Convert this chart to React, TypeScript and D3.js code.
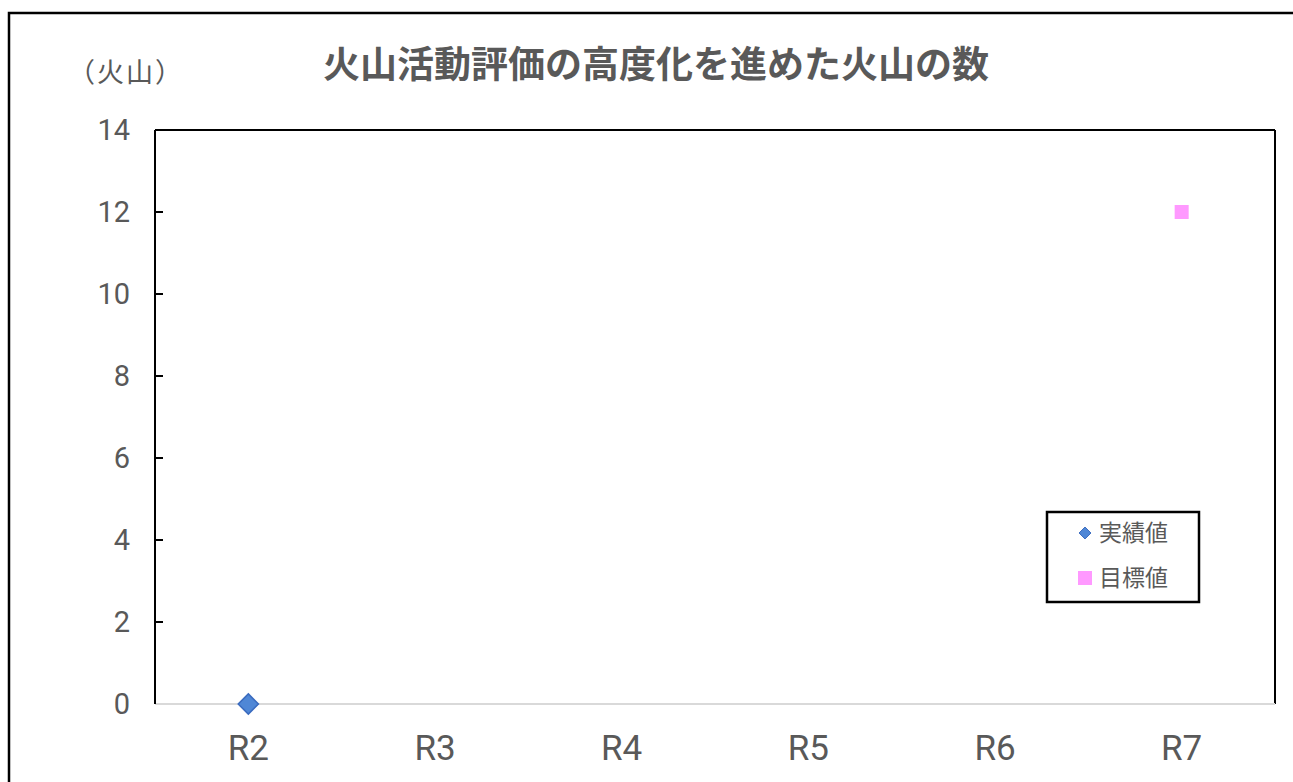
import React from 'react'
import * as d3 from 'd3'

const categories = ['R2', 'R3', 'R4', 'R5', 'R6', 'R7']
const actualValues: (number | null)[] = [0, null, null, null, null, null]
const targetValues: (number | null)[] = [null, null, null, null, null, 12]
const yTicks = [0, 2, 4, 6, 8, 10, 12, 14]
const seriesLabels = ['実績値', '目標値']

const W = 1293
const H = 782
const margin = { left: 155, top: 130, right: 18, bottom: 78 }
const textColor = '#595959'
const fontFamily = '"Noto Sans CJK JP", "Noto Sans", sans-serif'
const numFont = '"Roboto", sans-serif'

const App = () => {
    const x = d3.scaleBand<string>().domain(categories).range([margin.left, W - margin.right])
    const y = d3.scaleLinear().domain([0, 14]).range([H - margin.bottom, margin.top])
    const cx = (c: string) => (x(c) as number) + x.bandwidth() / 2
    const diamond = d3.symbol().type(d3.symbolDiamond2).size(260)()
    const legendDiamond = d3.symbol().type(d3.symbolDiamond2).size(90)()

    return (
        <svg
            width={W}
            height={H}
            style={{ position: 'fixed', left: 0, top: 0, background: '#fff', fontFamily }}
        >
            {/* outer chart border */}
            <rect x={9} y={13} width={W} height={H} fill="none" stroke="#000" strokeWidth={2.5} />

            <text x={656} y={78} textAnchor="middle" fontSize={37} fontWeight="bold" fill={textColor}>
                火山活動評価の高度化を進めた火山の数
            </text>
            <text x={68} y={82} fontSize={27} fill={textColor} letterSpacing={2}>（火山）</text>

            {/* plot area frame */}
            <line x1={margin.left} x2={W - margin.right} y1={margin.top} y2={margin.top} stroke="#000" strokeWidth={2} />
            <line x1={W - margin.right} x2={W - margin.right} y1={margin.top} y2={y(0)} stroke="#000" strokeWidth={2} />
            <line x1={margin.left} x2={W - margin.right} y1={y(0)} y2={y(0)} stroke="#d9d9d9" strokeWidth={2} />
            <line x1={margin.left} x2={margin.left} y1={margin.top} y2={y(0)} stroke="#000" strokeWidth={2} />

            {yTicks.map((t) => (
                <g key={t}>
                    {t > 0 && t < 14 && (
                        <line x1={margin.left} x2={margin.left + 8} y1={y(t)} y2={y(t)} stroke="#000" strokeWidth={2} />
                    )}
                    <text x={130} y={y(t)} dy="0.36em" textAnchor="end" fontSize={29} fontFamily={numFont} fill={textColor}>{t}</text>
                </g>
            ))}

            {categories.map((c) => (
                <text key={c} x={cx(c)} y={760} textAnchor="middle" fontSize={35} fontFamily={numFont} fill={textColor}>{c}</text>
            ))}

            {actualValues.map((v, i) => v === null ? null : (
                <path
                    key={'a' + i}
                    d={diamond as string}
                    transform={`translate(${cx(categories[i])}, ${y(v)})`}
                    fill="#4F87D6"
                    stroke="#3A6BBF"
                    strokeWidth={1.5}
                />
            ))}
            {targetValues.map((v, i) => v === null ? null : (
                <rect
                    key={'t' + i}
                    x={cx(categories[i]) - 7}
                    y={y(v) - 7}
                    width={14}
                    height={14}
                    fill="#FF99FF"
                />
            ))}

            {/* legend */}
            <g transform="translate(1047, 512)">
                <rect x={0} y={0} width={152} height={90} fill="#fff" stroke="#000" strokeWidth={2.5} />
                <path d={legendDiamond as string} transform="translate(38, 21)" fill="#4F87D6" stroke="#3A6BBF" strokeWidth={1} />
                <text x={52} y={21} dy="0.35em" fontSize={23} fill={textColor}>{seriesLabels[0]}</text>
                <rect x={31} y={59} width={14} height={14} fill="#FF99FF" />
                <text x={52} y={66} dy="0.35em" fontSize={23} fill={textColor}>{seriesLabels[1]}</text>
            </g>
        </svg>
    )
}

export default App
